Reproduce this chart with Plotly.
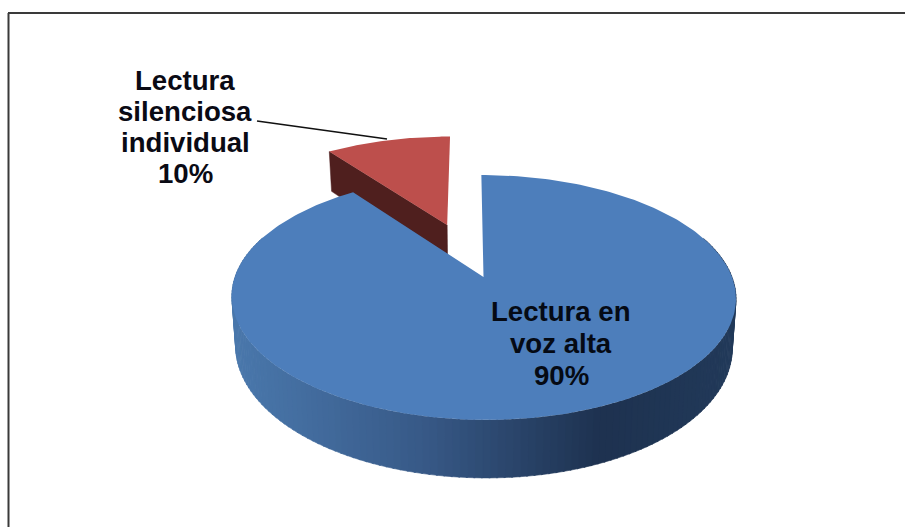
import numpy as np
import plotly.graph_objects as go

# ---- data ----
categories = ["Lectura en voz alta", "Lectura silenciosa individual"]
shares = [90, 10]
label_lines_main = ["Lectura en", "voz alta", "90%"]
label_lines_small = ["Lectura", "silenciosa", "individual", "10%"]

# ---- styling / view of the 3D pie ----
W, H = 905, 527
X0, Y0 = 483.5, 277.0
BX, AY, K, SKEW = 248.5, 119.0, 0.1673, 2.5
DEPTH = 48.3
SHRINK = 0.015
EXPLODE = 0.495
BLUE_TOP, RED_TOP, RED_SIDE = "#4d7ebb", "#bd4f4c", "#4f1f1e"
SIDE_STOPS = [(232, (74, 120, 172)), (300, (68, 110, 160)), (420, (56, 90, 136)),
              (600, (30, 50, 80)), (736, (34, 58, 90))]


def project(px, py, low=False):
    px, py = np.asarray(px, float), np.asarray(py, float)
    d = 1 + K * py
    x = X0 + (BX * px - SKEW * py) / d
    y = Y0 - AY * py / d
    if low:
        x = X0 + (x - X0) * (1 - SHRINK)
        y = y + DEPTH / d
    return x, y


def rim(a0, a1, n=120):
    t = np.radians(np.linspace(a0, a1, n))
    return np.sin(t), np.cos(t)


def poly(x, y, color, lw=0.0):
    return go.Scatter(x=list(x), y=list(y), mode="lines", fill="toself", fillcolor=color,
                      line=dict(color=color, width=lw), hoverinfo="skip", showlegend=False)


def side_color(x):
    xs = [s[0] for s in SIDE_STOPS]
    c = [int(np.interp(x, xs, [s[1][i] for s in SIDE_STOPS])) for i in range(3)]
    return f"rgb({c[0]},{c[1]},{c[2]})"


fig = go.Figure()

# angles from the values; the pie starts at 12 o'clock, clockwise
sweep_main = 360 * shares[0] / sum(shares)
sweep_small = 360 * shares[1] / sum(shares)
mid = np.radians(sweep_main + sweep_small / 2)
ex, ey = EXPLODE * np.sin(mid), EXPLODE * np.cos(mid)

# exploded slice: visible radial wall, then its top
rx, ry = rim(sweep_main, 360, 60)
rx, ry = rx + ex, ry + ey
tipx, tipy = rx[0], ry[0]
wx = np.array([ex, tipx, tipx, ex])
wy = np.array([ey, tipy, tipy, ey])
x1, y1 = project(wx[:2], wy[:2])
x2, y2 = project(wx[2:], wy[2:], low=True)
fig.add_trace(poly(np.r_[x1, x2, x1[0]], np.r_[y1, y2, y1[0]], RED_SIDE, 0.5))
x, y = project(np.r_[ex, rx], np.r_[ey, ry])
fig.add_trace(poly(np.r_[x, x[0]], np.r_[y, y[0]], RED_TOP))

# large slice: shaded outer wall in thin strips, then its top
edges = np.linspace(70, 290, 150)
for a0, a1 in zip(edges[:-1], edges[1:]):
    sx, sy = rim(a0, a1 + 0.3, 2)
    tx, ty = project(sx, sy)
    bx, by = project(sx[::-1], sy[::-1], low=True)
    fig.add_trace(poly(np.r_[tx, bx, tx[0]], np.r_[ty, by, ty[0]], side_color(tx.mean()), 0.6))
mx, my = rim(0, sweep_main, 300)
x, y = project(np.r_[0, mx], np.r_[0, my])
fig.add_trace(poly(np.r_[x, x[0]], np.r_[y, y[0]], BLUE_TOP))

annotations = []
for line, ypos in zip(label_lines_small, [80, 111, 142, 173]):
    annotations.append(dict(x=185, y=ypos, text=f"<b>{line}</b>", showarrow=False, xref="x", yref="y",
                            font=dict(family="Liberation Sans", size=27.6, color="#0a0a14")))
for line, ypos in zip(label_lines_main, [311, 343, 375]):
    annotations.append(dict(x=561, y=ypos, text=f"<b>{line}</b>", showarrow=False, xref="x", yref="y",
                            font=dict(family="Liberation Sans", size=27.6, color="#050a14")))

shapes = [
    dict(type="line", xref="x", yref="y", x0=8, x1=905, y0=13, y1=13, line=dict(color="#3a3a3a", width=2), layer="above"),
    dict(type="line", xref="x", yref="y", x0=8.5, x1=8.5, y0=13, y1=527, line=dict(color="#3a3a3a", width=2), layer="above"),
    dict(type="line", xref="x", yref="y", x0=257, x1=387, y0=121, y1=139, line=dict(color="#111111", width=1.6), layer="above"),
]

fig.update_layout(
    width=W, height=H, margin=dict(l=0, r=0, t=0, b=0),
    paper_bgcolor="white", plot_bgcolor="white", showlegend=False,
    xaxis=dict(range=[0, W], visible=False, fixedrange=True),
    yaxis=dict(range=[H, 0], visible=False, fixedrange=True),
    annotations=annotations, shapes=shapes,
)
fig.write_html("out.html", config=dict(displayModeBar=False),
               post_script="document.body.style.margin='0';document.documentElement.style.overflow='hidden';")
